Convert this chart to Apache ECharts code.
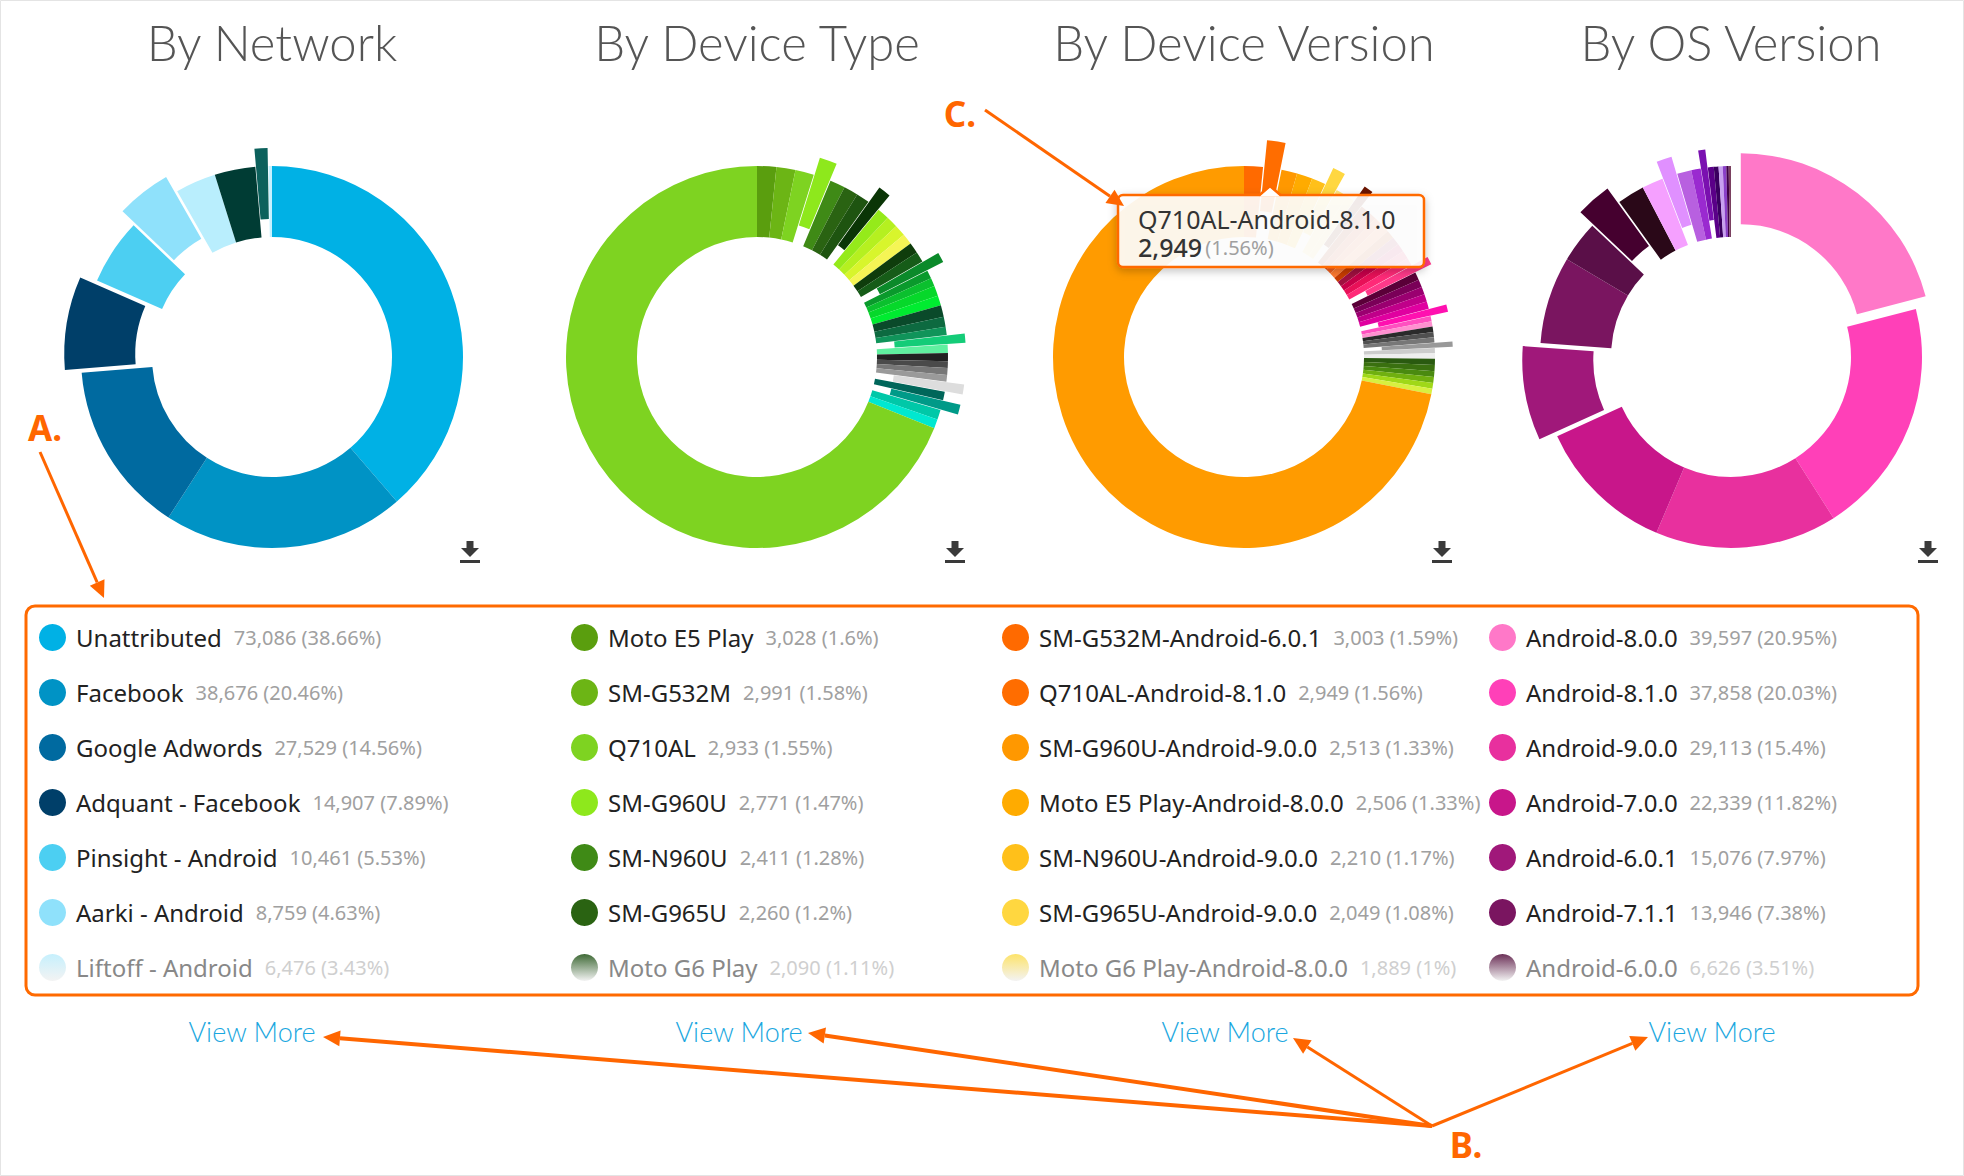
<!DOCTYPE html>
<html>
<head>
<meta charset="utf-8">
<title>Attribution breakdown</title>
<script src="https://cdn.jsdelivr.net/npm/echarts@6/dist/echarts.min.js"></script>
<style>
  html, body { margin: 0; padding: 0; background: #fff; }
  #chart { width: 1964px; height: 1176px; }
</style>
</head>
<body>
<div id="chart"></div>
<script>
// ---- data (unnamed slices are the "View More" tail) ----
const titles = ['By Network', 'By Device Type', 'By Device Version', 'By OS Version'];

const networkNames = ['Unattributed', 'Facebook', 'Google Adwords', 'Adquant - Facebook', 'Pinsight - Android', 'Aarki - Android', 'Liftoff - Android'];
const networkValues = [73086, 38676, 27529, 14907, 10461, 8759, 6476, 6522, 2080, 548];
const networkPct = [38.66, 20.46, 14.56, 7.89, 5.53, 4.63, 3.43];

const deviceNames = ['Moto E5 Play', 'SM-G532M', 'Q710AL', 'SM-G960U', 'SM-N960U', 'SM-G965U', 'Moto G6 Play'];
const deviceValues = [3028, 2991, 2933, 2771, 2411, 2260, 2090,
  1986, 1892, 1854, 1797, 1703, 1702, 1665, 1608, 1324, 1306, 1589, 1570, 1835, 1570,
  1305, 1476, 1305, 1304, 1060, 1059, 1058, 1570, 1362, 1569, 1568, 1419, 128500];
const devicePct = [1.6, 1.58, 1.55, 1.47, 1.28, 1.2, 1.11];

const versionNames = ['SM-G532M-Android-6.0.1', 'Q710AL-Android-8.1.0', 'SM-G960U-Android-9.0.0', 'Moto E5 Play-Android-8.0.0', 'SM-N960U-Android-9.0.0', 'SM-G965U-Android-9.0.0', 'Moto G6 Play-Android-8.0.0'];
const versionValues = [3003, 2949, 2513, 2506, 2210, 2049, 1889,
  1322, 1511, 1417, 1416, 1322, 1508, 1320, 1318, 1317, 1315, 1284, 1283, 1247, 1246,
  1209, 1208, 1171, 1170, 850, 849, 848, 847, 846, 845, 844, 843, 982, 981, 945, 944,
  907, 869, 135740];
const versionPct = [1.59, 1.56, 1.33, 1.33, 1.17, 1.08, 1];

const osNames = ['Android-8.0.0', 'Android-8.1.0', 'Android-9.0.0', 'Android-7.0.0', 'Android-6.0.1', 'Android-7.1.1', 'Android-6.0.0'];
const osValues = [39597, 37858, 29113, 22339, 15076, 13946, 6626,
  5670, 4347, 3402, 2457, 2268, 1512, 1134, 945, 756, 662, 567, 378, 359];
const osPct = [20.95, 20.03, 15.4, 11.82, 7.97, 7.38, 3.51];

// ---- styles ----
const networkColors = ['#00b1e5', '#0093c5', '#006aa0', '#003f69', '#4ccff2', '#8fe1fb', '#b9eefd', '#003c34', '#0c615c', '#c6f1ff'];
const networkOffsets = [0, 0, 0, 17, 0, 18, 0, 0, 18, 0];

const deviceColors = ['#5a9e0e', '#6cb515', '#7ed321', '#8ee81c', '#3f8a16', '#2a6312', '#1e5410',
  '#0a3506', '#95ea1a', '#b5f020', '#d8f52c', '#f5f555', '#0f3d0c', '#165c18', '#0b8a2a', '#0a9a2c', '#0bc02e',
  '#06d82a', '#00ec30', '#0a4a2a', '#0d6a40', '#10945a', '#14cc78', '#60f0a0', '#222222', '#4a4a4a', '#777777',
  '#9a9a9a', '#dddddd', '#00665a', '#009a88', '#00c8a8', '#00e8d0', '#7ed321'];
const deviceOffsets = [0, 0, 0, 18, 0, 0, 0, 18, 0, 0, 0, 0, 0, 0, 18, 0, 0, 0, 0, 0, 0, 0, 18, 0, 0, 0, 0, 0, 18, 0, 18, 0, 0, 0];

const versionColors = ['#ff6a00', '#ff6d00', '#ff9800', '#ffab00', '#ffc01a', '#ffd740', '#ffe680',
  '#ffe680', '#6a1400', '#a02800', '#d04010', '#f06020', '#ff7a30', '#c83c00', '#a01040', '#c8004a', '#e81058',
  '#ff2a78', '#ff3a8a', '#5a0038', '#7a0058', '#9a0070', '#c0008a', '#e000a0', '#ff10b0', '#ff50c0', '#ff90d0',
  '#2a2a2a', '#505050', '#777777', '#999999', '#cccccc', '#eeeeee', '#2a5a10', '#3a7010', '#4a8a10', '#70b010',
  '#a0d818', '#d8f040', '#ff9b00'];
const versionOffsets = [0, 27, 0, 0, 0, 18, 0, 0, 18, 0, 0, 0, 0, 0, 0, 0, 0, 0, 18, 0, 0, 0, 0, 0, 18, 0, 0,
  0, 0, 0, 18, 0, 0, 0, 0, 0, 0, 0, 0, 0];

const osColors = ['#ff78c8', '#ff40b8', '#e8309e', '#c8168a', '#a0187a', '#7a1560', '#5a0f48',
  '#45002f', '#2a0818', '#f5a0ff', '#e090ff', '#b860e0', '#9a2ad0', '#7a10b0', '#5a0088', '#3a0060',
  '#c8a0f0', '#8a40c8', '#400048', '#7a4060'];
const osOffsets = [16, 0, 0, 0, 18, 0, 0, 18, 0, 0, 18, 0, 0, 18, 0, 0, 0, 0, 0, 0];

const centersX = [272, 757, 1244, 1731];
const centerY = 357;
const legendLefts = [39, 571, 1002, 1489];

const fmt = v => v.toLocaleString('en-US');

function sliceNames(named, total, prefix) {
  const out = named.slice();
  for (let i = named.length; i < total; i++) out.push(prefix + ' ' + (i - named.length + 1));
  return out;
}

// one pie per offset level, all sharing the same layout so the angles line up
function donutSeries(cx, names, values, colors, offsets) {
  const allNames = sliceNames(names, values.length, names[0] + ' other');
  const levels = [...new Set(offsets)].sort((a, b) => a - b);
  return levels.map(level => ({
    type: 'pie',
    center: [cx, centerY],
    radius: [120, 191],
    startAngle: 90,
    clockwise: true,
    silent: true,
    selectedMode: 'multiple',
    selectedOffset: level,
    padAngle: 0,
    minAngle: 0,
    avoidLabelOverlap: false,
    label: { show: false },
    labelLine: { show: false },
    itemStyle: { borderWidth: 0 },
    data: allNames.map((n, i) => ({
      name: n,
      value: values[i],
      selected: level > 0 && offsets[i] === level,
      itemStyle: { color: offsets[i] === level ? colors[i] : 'rgba(0,0,0,0)', borderWidth: 0 }
    }))
  }));
}

const groups = [
  [networkNames, networkValues, networkPct, networkColors, networkOffsets],
  [deviceNames, deviceValues, devicePct, deviceColors, deviceOffsets],
  [versionNames, versionValues, versionPct, versionColors, versionOffsets],
  [osNames, osValues, osPct, osColors, osOffsets]
];

const legendText = {};
groups.forEach(([names, values, pct]) => {
  names.forEach((n, i) => { legendText[n] = fmt(values[i]) + ' (' + pct[i] + '%)'; });
});

function rich(nameColor, valColor) {
  return {
    n: { fontFamily: 'Noto Sans', fontSize: 24, color: nameColor, padding: [0, 0, 0, 5], lineHeight: 27 },
    v: { fontFamily: 'Noto Sans', fontSize: 20, color: valColor, padding: [0, 0, 0, 12], lineHeight: 27 }
  };
}
const fadeTop = ['#c6f0fd', '#3f6a36', '#fde36a', '#6c3158'];
function legendTextStyle(k, nameColor, valColor) {
  const s = { rich: rich(nameColor, valColor) };
  if (k === 2) { s.width = 442; s.overflow = 'truncate'; s.ellipsis = ''; }
  return s;
}

const legends = groups.map(([names, , , colors], k) => ({
  orient: 'vertical',
  left: legendLefts[k],
  top: 624,
  padding: 0,
  icon: 'circle',
  itemWidth: 27,
  itemHeight: 27,
  itemGap: 28,
  selectedMode: false,
  itemStyle: { borderWidth: 0 },
  formatter: name => '{n|' + name + '}{v|' + legendText[name] + '}',
  textStyle: legendTextStyle(k, '#222', '#a0a0a0'),
  data: names.map((n, i) => i < names.length - 1
    ? { name: n, itemStyle: { color: colors[i], borderWidth: 0 } }
    : {
        name: n,
        itemStyle: {
          borderWidth: 0,
          color: { type: 'linear', x: 0, y: 0, x2: 0, y2: 1,
            colorStops: [{ offset: 0, color: fadeTop[k] }, { offset: 1, color: '#f3f3f3' }] }
        },
        textStyle: legendTextStyle(k, '#888', '#cfcfcf')
      })
}));

const series = [];
groups.forEach(([names, values, , colors, offsets], k) => {
  series.push(...donutSeries(centersX[k], names, values, colors, offsets));
});

// ---- annotation helpers ----
const ORANGE = '#ff6600';
function arrow(x1, y1, x2, y2, w) {
  const a = Math.atan2(y2 - y1, x2 - x1);
  const L = 17, H = 8;
  const bx = x2 - L * Math.cos(a), by = y2 - L * Math.sin(a);
  return [
    { type: 'line', z: 100, shape: { x1, y1, x2: bx, y2: by }, style: { stroke: ORANGE, lineWidth: w } },
    { type: 'polygon', z: 100, shape: { points: [[x2, y2], [bx - H * Math.sin(a), by + H * Math.cos(a)], [bx + H * Math.sin(a), by - H * Math.cos(a)]] }, style: { fill: ORANGE } }
  ];
}
function label(text, x, y) {
  return { type: 'text', z: 100, x, y, style: { text, fill: ORANGE, fontFamily: 'Noto Sans', fontWeight: 'bold', fontSize: 35, align: 'center', verticalAlign: 'middle', textAlign: 'center', textVerticalAlign: 'middle' } };
}
function download(cx) {
  const c = '#3a3a3a';
  return [
    { type: 'rect', shape: { x: cx - 3.5, y: 541, width: 7, height: 8 }, style: { fill: c } },
    { type: 'polygon', shape: { points: [[cx - 9, 548], [cx + 9, 548], [cx, 557]] }, style: { fill: c } },
    { type: 'rect', shape: { x: cx - 10, y: 560, width: 20, height: 3 }, style: { fill: c } }
  ];
}

const tipIdx = 1;
const graphics = [
  { type: 'rect', shape: { x: 0.5, y: 0.5, width: 1963, height: 1175 }, style: { fill: 'none', stroke: '#e4e4e4', lineWidth: 1 } },
  { type: 'rect', shape: { x: 26, y: 606, width: 1892, height: 389, r: 9 }, style: { fill: 'none', stroke: '#ff6a00', lineWidth: 3 } }
];
titles.forEach((t, k) => {
  graphics.push({ type: 'text', x: centersX[k], y: 42, style: { text: t, fill: '#555', fontFamily: 'Lato', fontWeight: 300, fontSize: 49, align: 'center', verticalAlign: 'middle', textAlign: 'center', textVerticalAlign: 'middle' } });
  graphics.push(...download([470, 955, 1442, 1928][k]));
  graphics.push({ type: 'text', x: [252, 739, 1225, 1712][k], y: 1031, style: { text: 'View More', fill: '#1aa7e0', fontFamily: 'Lato', fontWeight: 300, fontSize: 27, align: 'center', verticalAlign: 'middle', textAlign: 'center', textVerticalAlign: 'middle' } });
});
// tooltip callout on the Q710AL slice
graphics.push(
  { type: 'rect', z: 90, shape: { x: 1118, y: 195, width: 306, height: 72, r: 5 }, style: { fill: 'rgba(255,255,255,0.9)', stroke: '#ff6a00', lineWidth: 2.5, shadowBlur: 8, shadowColor: 'rgba(0,0,0,0.25)', shadowOffsetY: 3 } },
  { type: 'polygon', z: 91, shape: { points: [[1259, 196.5], [1270, 187], [1281, 196.5]] }, style: { fill: '#fff' } },
  { type: 'polyline', z: 91, shape: { points: [[1259, 195.5], [1270, 186], [1281, 195.5]] }, style: { stroke: '#ff6a00', lineWidth: 2.5, fill: 'none' } },
  { type: 'text', z: 92, x: 1138, y: 233, style: {
      text: '{a|' + versionNames[tipIdx] + '}\n{b|' + fmt(versionValues[tipIdx]) + '} {c|(' + versionPct[tipIdx] + '%)}',
      verticalAlign: 'middle', textVerticalAlign: 'middle',
      rich: {
        a: { fill: '#333', fontFamily: 'Noto Sans', fontSize: 25, lineHeight: 28 },
        b: { fill: '#333', fontFamily: 'Noto Sans', fontWeight: 500, fontSize: 25, lineHeight: 28 },
        c: { fill: '#a0a0a0', fontFamily: 'Noto Sans', fontSize: 20, lineHeight: 28 }
      } } }
);
// A / B / C call-outs
graphics.push(label('A.', 45, 427), ...arrow(40, 452, 104, 598, 3));
graphics.push(label('C.', 960, 113), ...arrow(985, 110, 1124, 206, 3));
graphics.push(label('B.', 1466, 1144));
[[323, 1037], [808, 1033], [1293, 1038], [1648, 1037]].forEach(([x, y], i) => {
  graphics.push(...arrow(1432, 1126, x, y, i < 2 ? 4 : 3));
});

const chart = echarts.init(document.getElementById('chart'), null, { renderer: 'svg' });
chart.setOption({
  backgroundColor: '#fff',
  animation: false,
  legend: legends,
  series,
  graphic: { elements: graphics }
});
</script>
</body>
</html>
